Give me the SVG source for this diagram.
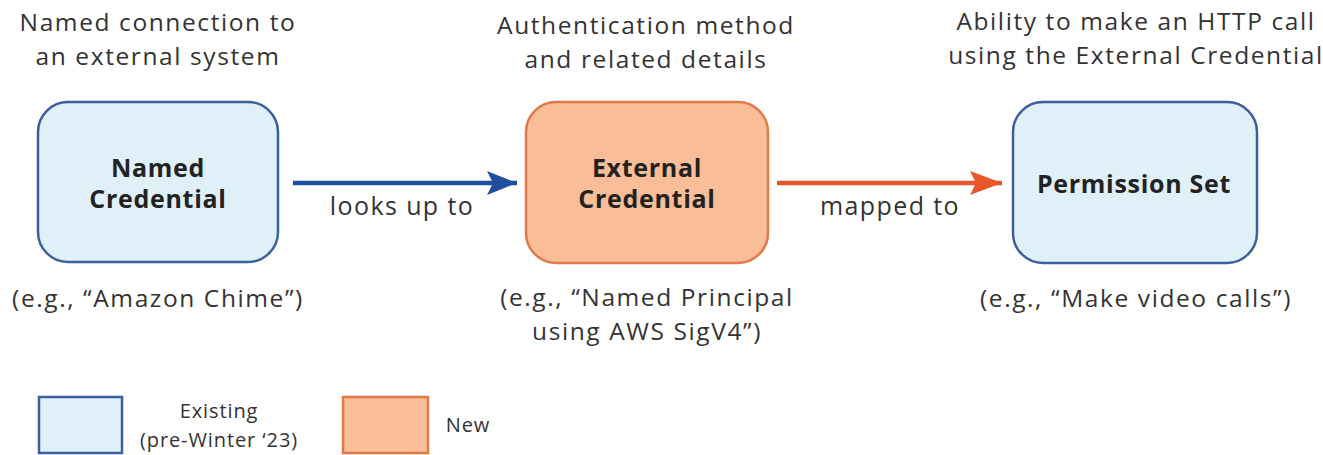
<svg xmlns="http://www.w3.org/2000/svg" width="1323" height="455" viewBox="0 0 1323 455">
  <style>
    text { font-family: "Open Sans", "Noto Sans", "Liberation Sans", sans-serif; fill: #333333; text-anchor: middle; }
    .cap { font-size: 24.5px; letter-spacing: 1.6px; }
    .title { font-size: 25px; font-weight: bold; fill: #222222; letter-spacing: 0.7px; }
    .lbl { font-size: 25px; letter-spacing: 1.4px; }
    .leg { font-size: 20px; letter-spacing: 0.9px; }
    .existing { fill: #dff0f9; stroke: #3d5f9c; stroke-width: 2.5; }
    .new { fill: #f9bd97; stroke: #e07a4a; stroke-width: 2.5; }
  </style>
  <defs>
    <marker id="headBlue" markerWidth="32" markerHeight="26" refX="30" refY="12" orient="auto" markerUnits="userSpaceOnUse">
      <path d="M0,0 L30,12 L0,24 L6,12 Z" fill="#1f4f9c"/>
    </marker>
    <marker id="headOrange" markerWidth="34" markerHeight="26" refX="32" refY="12" orient="auto" markerUnits="userSpaceOnUse">
      <path d="M0,0 L32,12 L0,24 L6,12 Z" fill="#e8562a"/>
    </marker>
  </defs>
  <rect width="1323" height="455" fill="#ffffff"/>

  <!-- column headings -->
  <g id="headings" class="cap">
    <text x="158" y="31">Named connection to</text>
    <text x="158" y="65">an external system</text>
    <text x="646" y="34">Authentication method</text>
    <text x="646" y="68">and related details</text>
    <text x="1136" y="30">Ability to make an HTTP call</text>
    <text x="1136" y="64">using the External Credential</text>
  </g>

  <g id="named-credential">
    <rect class="existing" x="38" y="102" width="240" height="160" rx="30"/>
    <text class="title" x="158" y="177">Named</text>
    <text class="title" x="158" y="208">Credential</text>
    <text class="cap" x="158" y="307">(e.g., “Amazon Chime”)</text>
  </g>

  <g id="external-credential">
    <rect class="new" x="526" y="102" width="242" height="161" rx="30"/>
    <text class="title" x="647" y="177">External</text>
    <text class="title" x="647" y="208">Credential</text>
    <text class="cap" x="647" y="306">(e.g., “Named Principal</text>
    <text class="cap" x="647" y="340">using AWS SigV4”)</text>
  </g>

  <g id="permission-set">
    <rect class="existing" x="1013" y="102" width="244" height="161" rx="30"/>
    <text class="title" x="1134" y="193">Permission Set</text>
    <text class="cap" x="1136" y="307">(e.g., “Make video calls”)</text>
  </g>

  <g id="connectors">
    <line x1="293" y1="183" x2="517" y2="183" stroke="#1f4f9c" stroke-width="4.5" marker-end="url(#headBlue)"/>
    <text class="lbl" x="402" y="215">looks up to</text>
    <line x1="777" y1="183" x2="1002" y2="183" stroke="#e8562a" stroke-width="4.5" marker-end="url(#headOrange)"/>
    <text class="lbl" x="890" y="215">mapped to</text>
  </g>

  <g id="legend">
    <rect class="existing" x="39" y="397" width="83" height="56"/>
    <text class="leg" x="219" y="418">Existing</text>
    <text class="leg" x="219" y="447">(pre-Winter ‘23)</text>
    <rect class="new" x="343" y="397" width="85" height="56"/>
    <text class="leg" x="468" y="432">New</text>
  </g>
</svg>
